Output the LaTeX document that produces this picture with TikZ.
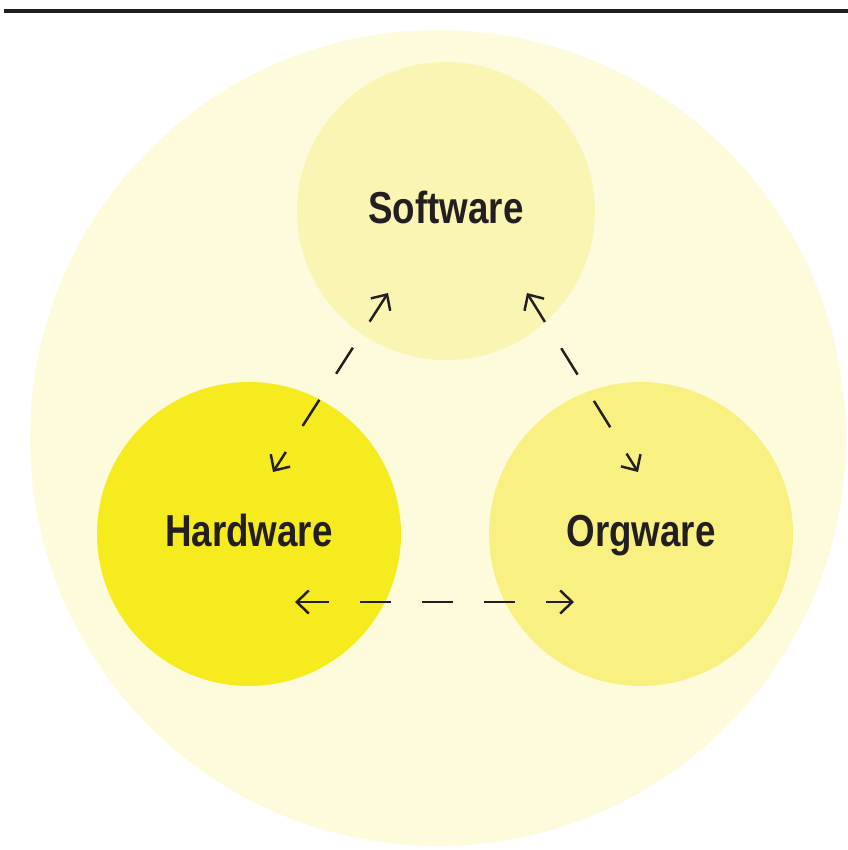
\documentclass[tikz,border=0pt]{standalone}
\usepackage{fontspec}
\newfontfamily\wareFont{Liberation Sans}[FakeStretch=0.82]
\usepackage{xcolor}
\definecolor{outerfill}{RGB}{254,250,220}
\definecolor{softfill}{RGB}{251,245,180}
\definecolor{hardfill}{RGB}{245,235,30}
\definecolor{orgfill}{RGB}{249,240,130}
\definecolor{inkcol}{RGB}{35,31,32}
\usepackage{tikz}
\usetikzlibrary{arrows.meta,positioning}

\begin{document}
\begin{tikzpicture}[x=0.02cm, y=-0.02cm,
  ware/.style={circle,inner sep=0pt,minimum size=6.08cm,text=inkcol,
    font=\wareFont\bfseries\fontsize{25.5}{30}\selectfont,
    text height=14pt,text depth=0pt},
  link/.style={draw=inkcol,line width=1.4pt,dash pattern=on 0.62cm off 0.62cm,
    {Straight Barb[length=2.4mm,width=4.6mm]}-{Straight Barb[length=2.4mm,width=4.6mm]}}]

  \useasboundingbox[fill=white] (0,0) rectangle (848,850);
  % rule across the top
  \draw[line width=0.09cm,inkcol] (4,11) -- (848,11);

  % outer disc holding the three parts
  \node[circle,fill=outerfill,minimum size=16.32cm] (all) at (438,438) {};

  \node[ware,fill=softfill,minimum size=5.96cm] (sw) at (446,211) {Software};
  \node[ware,fill=hardfill] (hw) at (249,534) {Hardware};
  \node[ware,fill=orgfill]  (og) at (641,534) {Orgware};

  % ends of the two-way links
  \coordinate (swL) at (388,293);
  \coordinate (swR) at (527,293);
  \coordinate (hwT) at (273,472);
  \coordinate (ogT) at (638,472);
  \coordinate (hwR) at (295,602);
  \coordinate (ogL) at (574,602);

  \draw[link] (swL) -- (hwT);
  \draw[link] (swR) -- (ogT);
  \draw[link] (hwR) -- (ogL);
\end{tikzpicture}
\end{document}
